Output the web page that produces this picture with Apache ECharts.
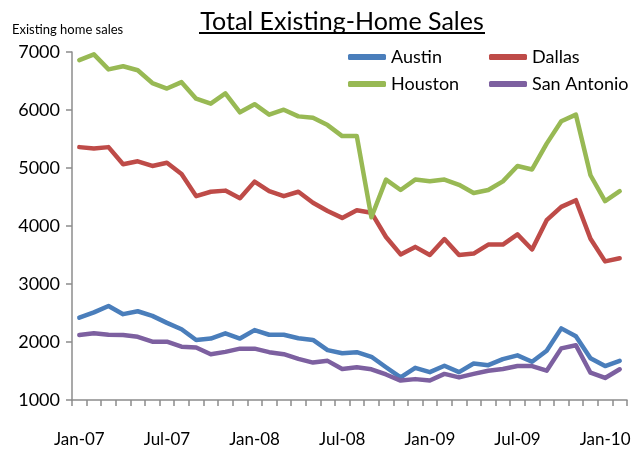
<!DOCTYPE html>
<html>
<head>
<meta charset="utf-8">
<script src="https://cdn.jsdelivr.net/npm/echarts@6/dist/echarts.min.js"></script>
<style>
  html, body { margin: 0; padding: 0; background: #fff; }
  #box1 { width: 640px; height: 452px; }
</style>
</head>
<body>
<div id="box1"></div>
<script>
// 月份 Jan-07 .. Feb-10
const aMonths = [];
const aMon = ['Jan','Feb','Mar','Apr','May','Jun','Jul','Aug','Sep','Oct','Nov','Dec'];
for (let y = 7; y <= 10; y++) {
    aMon.forEach(m => aMonths.push(`${m}-${String(y).padStart(2, '0')}`));
}
const aCategories = aMonths.slice(0, 38);

const aAustin = [2420, 2510, 2620, 2480, 2530, 2450, 2330, 2220, 2035, 2060, 2150, 2060,
    2205, 2125, 2125, 2065, 2035, 1860, 1805, 1825, 1745, 1565, 1390, 1555, 1480, 1590,
    1480, 1630, 1600, 1705, 1770, 1660, 1850, 2235, 2100, 1720, 1585, 1675];
const aDallas = [5360, 5335, 5360, 5065, 5115, 5035, 5090, 4895, 4515, 4590, 4610, 4480,
    4765, 4600, 4515, 4590, 4400, 4260, 4140, 4270, 4230, 3810, 3510, 3640, 3500, 3775,
    3500, 3525, 3680, 3680, 3855, 3595, 4100, 4330, 4445, 3780, 3390, 3445];
const aHouston = [6860, 6960, 6700, 6755, 6685, 6465, 6370, 6480, 6195, 6110, 6285, 5960,
    6100, 5920, 6005, 5890, 5865, 5740, 5550, 5550, 4150, 4800, 4620, 4800, 4770, 4800,
    4710, 4570, 4620, 4770, 5035, 4975, 5420, 5805, 5920, 4875, 4430, 4600];
const aSanAntonio = [2120, 2150, 2125, 2120, 2090, 2005, 2005, 1920, 1905, 1790, 1830, 1885,
    1885, 1825, 1790, 1710, 1645, 1675, 1535, 1565, 1530, 1440, 1335, 1360, 1335, 1450,
    1390, 1450, 1505, 1535, 1585, 1585, 1505, 1890, 1945, 1470, 1380, 1530];

const aYTicks = [1000, 7000, 1000]; // min, max, interval

const sFont = 'Lato, "Open Sans", sans-serif';

function mkSeries(name, color, data){
    return {
        name,
        type: 'line',
        data,
        showSymbol: false,
        symbol: 'none',
        lineStyle: { width: 4.5, color, cap: 'round', join: 'round' },
        itemStyle: { color },
        emphasis: { disabled: true },
    };
}

const oLegendCommon = {
    icon: 'roundRect',
    itemWidth: 38,
    itemHeight: 6,
    itemGap: 10,
    selectedMode: false,
    textStyle: { fontFamily: sFont, fontSize: 18, color: '#000', width: 88, lineHeight: 22 },
};

const option = {
    animation: false,
    title: {
        text: 'Total Existing-Home Sales',
        left: 337,
        textAlign: 'center',
        top: 4,
        textStyle: { fontFamily: sFont, fontSize: 25, fontWeight: 'normal', color: '#000' },
    },
    graphic: [{
        type: 'line',
        shape: { x1: 199, y1: 33, x2: 485, y2: 33 },
        style: { stroke: '#000', lineWidth: 2 },
    }],
    legend: [
        { ...oLegendCommon, left: 343, top: 41, data: ['Austin', 'Dallas'] },
        { ...oLegendCommon, left: 343, top: 68, data: ['Houston', 'San Antonio'] },
    ],
    grid: { left: 72, right: 13, top: 52, bottom: 52, containLabel: false },
    xAxis: {
        type: 'category',
        data: aCategories,
        boundaryGap: true,
        axisLine: { lineStyle: { color: '#8c8c8c', width: 1.5 } },
        axisTick: { show: true, interval: 0, length: 6, lineStyle: { color: '#8c8c8c', width: 1.5 } },
        axisLabel: {
            interval: 5,
            margin: 31,
            fontFamily: sFont,
            fontSize: 17,
            color: '#000',
        },
    },
    yAxis: {
        type: 'value',
        name: 'Existing home sales',
        nameLocation: 'end',
        nameGap: 16,
        nameTextStyle: { fontFamily: sFont, fontSize: 13, color: '#000', align: 'left', padding: [0, 0, 0, -60] },
        min: aYTicks[0],
        max: aYTicks[1],
        interval: aYTicks[2],
        axisLine: { show: true, lineStyle: { color: '#8c8c8c', width: 1.5 } },
        axisTick: { show: true, length: 6, lineStyle: { color: '#8c8c8c', width: 1.5 } },
        splitLine: { show: false },
        axisLabel: { margin: 12, fontFamily: sFont, fontSize: 18, color: '#000', formatter: v => String(v) },
    },
    series: [
        mkSeries('Austin', '#4a7ebb', aAustin),
        mkSeries('Dallas', '#be4b48', aDallas),
        mkSeries('Houston', '#98b954', aHouston),
        mkSeries('San Antonio', '#7d60a0', aSanAntonio),
    ],
};

const myChart = echarts.init(document.getElementById('box1'), null, { renderer: 'canvas' });
myChart.setOption(option);
</script>
</body>
</html>
